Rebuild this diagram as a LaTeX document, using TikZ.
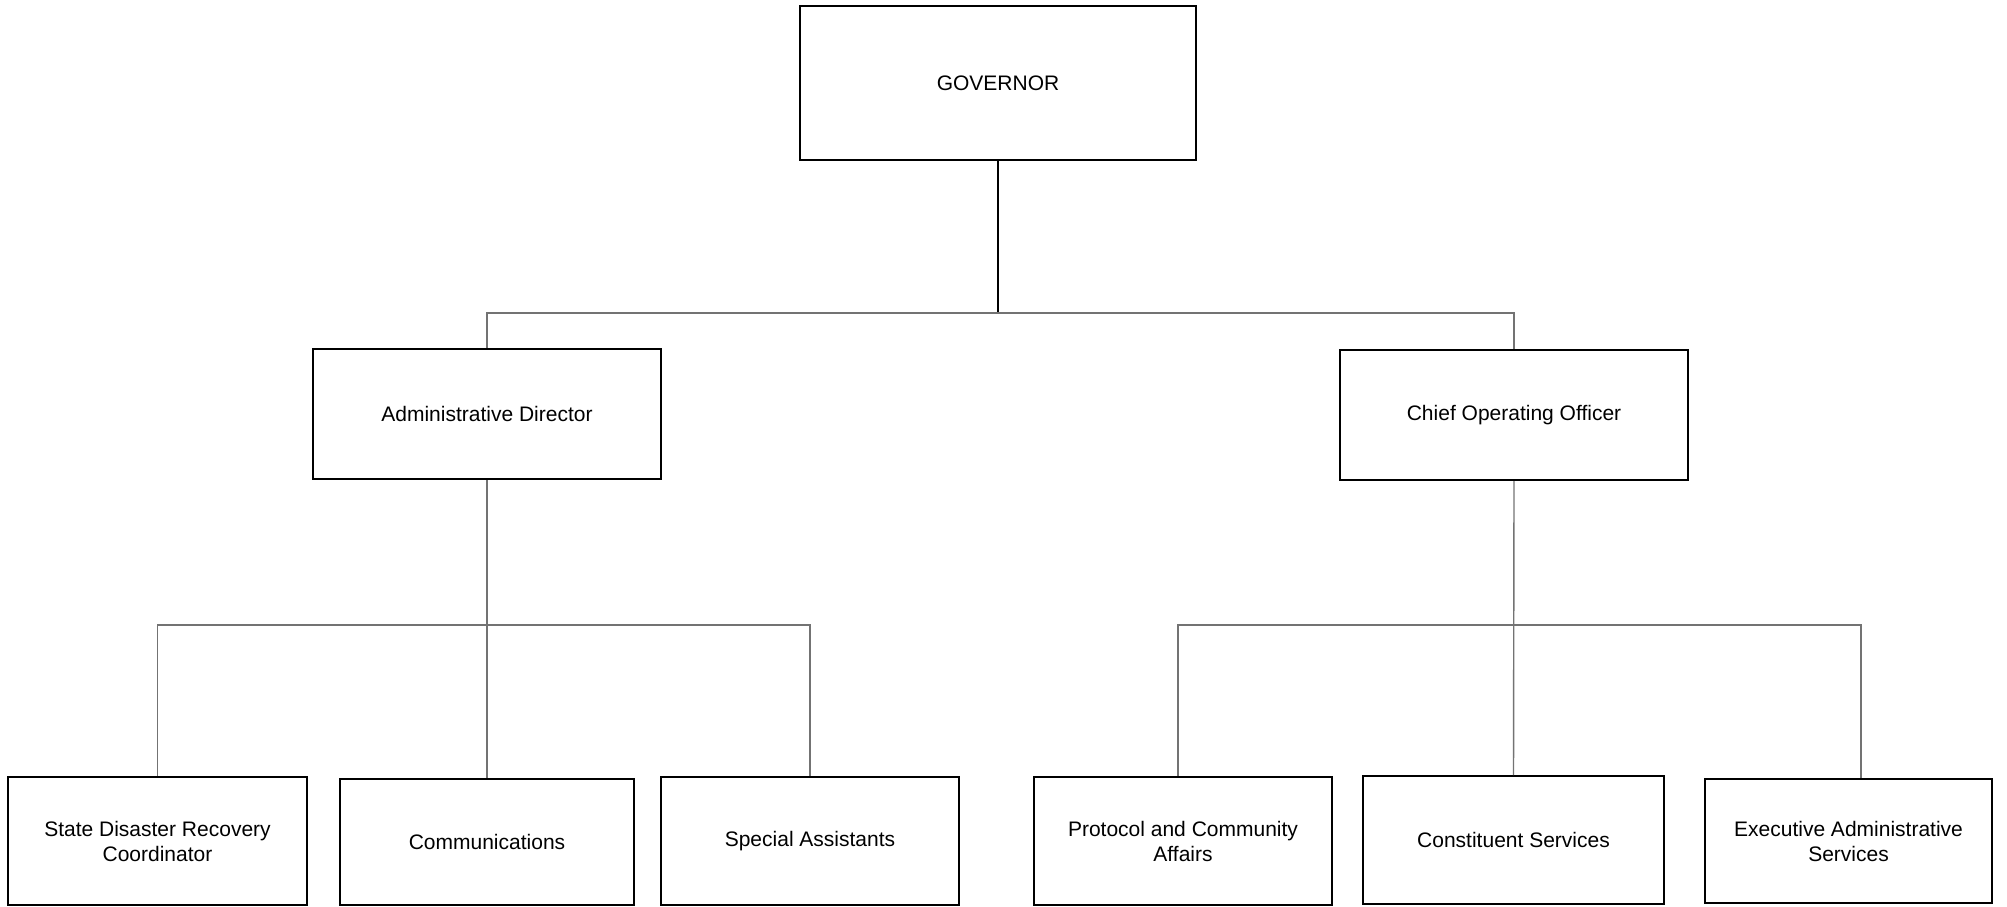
\documentclass[tikz,border=0pt]{standalone}
\usepackage{fontspec}
\setmainfont{Liberation Sans}
\begin{document}
\begin{tikzpicture}[x=0.5pt,y=-0.5pt,
  org/.style={draw=black, line width=1pt, align=center, inner sep=0pt,
    font=\fontsize{10.5}{12.5}\selectfont},
  conn/.style={draw=black!55, line width=0.7pt},
  govline/.style={draw=black, line width=1pt}]
\useasboundingbox (0,0) rectangle (2007,906);
\node[org, minimum width=198pt, minimum height=77pt] (gov) at (998,83) {GOVERNOR};
\node[org, minimum width=174pt, minimum height=65pt] (ad) at (487,414) {Administrative Director};
\node[org, minimum width=174pt, minimum height=65pt] (coo) at (1514,415) {Chief Operating Officer};
\node[org, minimum width=149.5pt, minimum height=64pt] (sdrc) at (157.5,841) {State Disaster Recovery\\Coordinator};
\node[org, minimum width=147pt, minimum height=63pt] (com) at (487,842) {Communications};
\node[org, minimum width=149pt, minimum height=64pt] (sa) at (810,841) {Special Assistants};
\node[org, minimum width=149pt, minimum height=64pt] (pca) at (1183,841) {Protocol and Community\\Affairs};
\node[org, minimum width=150.5pt, minimum height=64pt] (cs) at (1513.5,840) {Constituent Services};
\node[org, minimum width=143.5pt, minimum height=62pt] (eas) at (1848.5,841) {Executive Administrative\\Services};
\coordinate (j0) at (998,313);
\coordinate (j1) at (487,625);
\coordinate (p) at (1178,625);
\coordinate (e) at (1861,625);
\draw[govline] (gov.south) -- (j0);
\draw[conn] (ad.north) |- (j0) -| (coo.north);
\draw[conn] (ad.south) -- (com.north);
\draw[conn] (sdrc.north) |- (j1) -| (sa.north);
\draw[conn] (coo.south) -- (cs.north);
\draw[conn] (pca.north -| p) -- (p) -- (e) -- (eas.north -| e);
\end{tikzpicture}
\end{document}
